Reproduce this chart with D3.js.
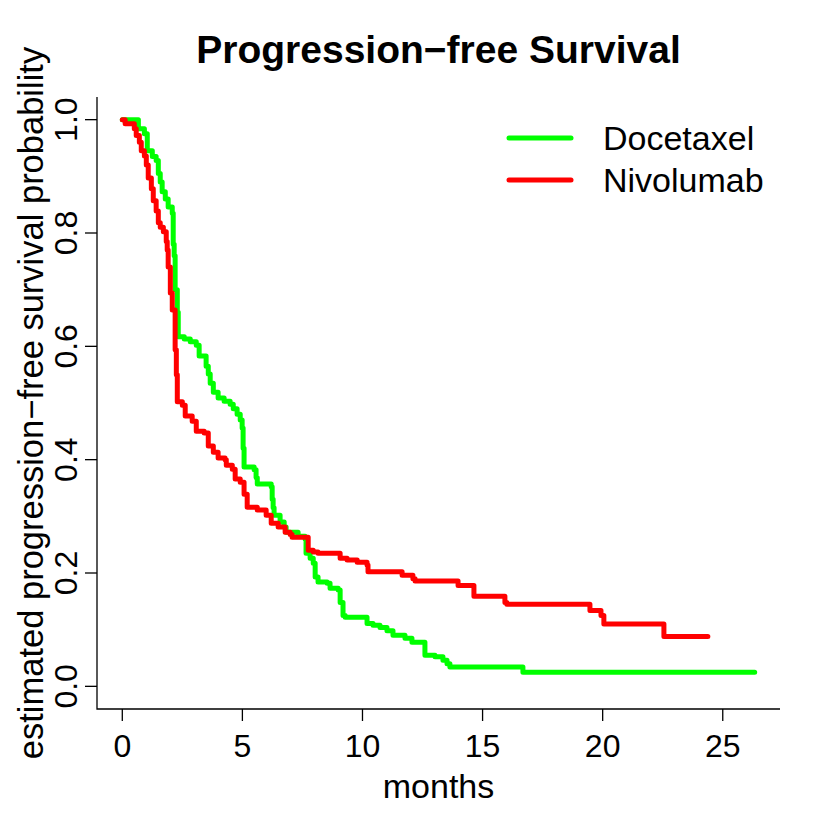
<!DOCTYPE html>
<html>
<head>
<meta charset="utf-8">
<script src="https://cdn.jsdelivr.net/npm/d3@7"></script>
<style>
  body { margin: 0; background: #fff; }
  text { font-family: "Liberation Sans", Arial, sans-serif; fill: #000; }
</style>
</head>
<body>
<div id="chart"></div>
<script>
// Kaplan-Meier steps (months, survival after the drop)
var docTime = [0, 0.67, 0.92, 1.04, 1.25, 1.41, 1.50, 1.58, 1.66, 1.79, 1.91, 2.08, 2.12, 2.16, 2.20, 2.29, 2.33,
    2.58, 2.83, 3.08, 3.20, 3.49, 3.58, 3.66, 3.79, 3.99, 4.24, 4.49, 4.62, 4.78, 4.91, 4.99, 5.03, 5.07,
    5.49, 5.57, 5.62, 6.20, 6.24, 6.28, 6.32, 6.57, 6.74, 6.82, 7.32, 7.61, 7.65, 7.82, 7.95, 8.03, 8.15,
    8.53, 8.65, 8.99, 9.07, 9.19, 9.28, 10.19, 10.44, 10.73, 11.02, 11.27, 11.77, 12.06, 12.60, 13.02,
    13.35, 13.52, 13.64, 16.68];
var docSurv = [1.0, 0.984, 0.975, 0.945, 0.935, 0.928, 0.905, 0.89, 0.873, 0.86, 0.846, 0.835, 0.78, 0.76, 0.70, 0.66, 0.617,
    0.613, 0.608, 0.602, 0.583, 0.565, 0.551, 0.535, 0.519, 0.509, 0.503, 0.498, 0.49, 0.48, 0.47, 0.456, 0.42, 0.387,
    0.382, 0.368, 0.357, 0.352, 0.33, 0.315, 0.302, 0.29, 0.281, 0.272, 0.265, 0.26, 0.235, 0.226, 0.217, 0.193, 0.184,
    0.182, 0.173, 0.17, 0.148, 0.125, 0.122, 0.111, 0.108, 0.104, 0.098, 0.09, 0.085, 0.078, 0.055, 0.052,
    0.046, 0.04, 0.034, 0.025];
var docEnd = 26.33;

var nivoTime = [0, 0.12, 0.50, 0.58, 0.71, 0.79, 0.92, 1.00, 1.08, 1.21, 1.29, 1.41, 1.50, 1.58, 1.71, 1.83, 1.87,
    1.91, 2.00, 2.08, 2.20, 2.25, 2.29, 2.50, 2.62, 2.91, 3.08, 3.41, 3.58, 3.79, 3.99, 4.28, 4.33, 4.58,
    4.70, 4.91, 5.07, 5.20, 5.62, 5.99, 6.20, 6.49, 6.78, 6.99, 7.07, 7.74, 7.95, 8.15, 9.07, 9.36, 9.78,
    10.19, 10.23, 11.65, 12.10, 12.19, 13.98, 14.64, 15.93, 16.01, 19.47, 19.93, 20.05, 22.55];
var nivoSurv = [1.0, 0.993, 0.984, 0.972, 0.96, 0.945, 0.936, 0.92, 0.897, 0.878, 0.857, 0.839, 0.818, 0.81, 0.802, 0.785, 0.77,
    0.74, 0.694, 0.664, 0.594, 0.55, 0.502, 0.496, 0.477, 0.468, 0.45, 0.447, 0.424, 0.413, 0.403, 0.4, 0.39, 0.383,
    0.366, 0.36, 0.339, 0.316, 0.311, 0.302, 0.288, 0.281, 0.272, 0.268, 0.263, 0.24, 0.237, 0.235, 0.226, 0.223, 0.219,
    0.214, 0.202, 0.196, 0.19, 0.186, 0.178, 0.159, 0.148, 0.145, 0.134, 0.125, 0.11, 0.088];
var nivoEnd = 24.38;

var seriesNames = ["Docetaxel", "Nivolumab"];
var seriesColors = ["#00ff00", "#ff0000"];
var xTicks = [0, 5, 10, 15, 20, 25];
var yTicks = [0, 0.2, 0.4, 0.6, 0.8, 1.0];

var width = 830,
    height = 830;

// plot region (R style: data range padded by 4%)
var plotLeft = 97, plotRight = 780, plotTop = 97, plotBottom = 709;
var xMax = docEnd, xPad = 0.04 * xMax;

var x = d3.scaleLinear().domain([-xPad, xMax + xPad]).range([plotLeft, plotRight]);
var y = d3.scaleLinear().domain([-0.04, 1.04]).range([plotBottom, plotTop]);

var svg = d3.select("#chart").append("svg")
    .attr("width", width)
    .attr("height", height);

// title
svg.append("text")
    .attr("x", (plotLeft + plotRight) / 2)
    .attr("y", 63)
    .attr("text-anchor", "middle")
    .style("font-size", "39px")
    .style("font-weight", "bold")
    .text("Progression\u2212free Survival");

// L-shaped box
svg.append("path")
    .attr("d", "M" + plotLeft + "," + plotTop + "V" + plotBottom + "H" + plotRight)
    .attr("fill", "none")
    .attr("stroke", "#000")
    .attr("stroke-width", 1.3);

// x axis ticks + labels
var xg = svg.append("g");
xTicks.forEach(function (t) {
    xg.append("line")
        .attr("x1", x(t)).attr("x2", x(t))
        .attr("y1", plotBottom).attr("y2", plotBottom + 12)
        .attr("stroke", "#000").attr("stroke-width", 1.3);
    xg.append("text")
        .attr("x", x(t)).attr("y", 757)
        .attr("text-anchor", "middle")
        .style("font-size", "32px")
        .text(t);
});

// y axis ticks + labels (rotated, R default)
var yg = svg.append("g");
yTicks.forEach(function (t) {
    yg.append("line")
        .attr("x1", plotLeft - 12).attr("x2", plotLeft)
        .attr("y1", y(t)).attr("y2", y(t))
        .attr("stroke", "#000").attr("stroke-width", 1.3);
    yg.append("text")
        .attr("transform", "translate(77," + y(t) + ") rotate(-90)")
        .attr("text-anchor", "middle")
        .style("font-size", "32px")
        .text(t.toFixed(1));
});

// axis titles
svg.append("text")
    .attr("x", (plotLeft + plotRight) / 2)
    .attr("y", 798)
    .attr("text-anchor", "middle")
    .style("font-size", "34px")
    .text("months");

svg.append("text")
    .attr("transform", "translate(43," + (plotTop + plotBottom) / 2 + ") rotate(-90)")
    .attr("text-anchor", "middle")
    .style("font-size", "34.5px")
    .text("estimated progression\u2212free survival probability");

// survival curves
var line = d3.line()
    .x(function (d) { return x(d[0]); })
    .y(function (d) { return y(d[1]); })
    .curve(d3.curveStepAfter);

function steps(times, surv, end) {
    var pts = times.map(function (t, i) { return [t, surv[i]]; });
    pts.push([end, surv[surv.length - 1]]);
    return pts;
}

var curves = [steps(docTime, docSurv, docEnd), steps(nivoTime, nivoSurv, nivoEnd)];

svg.append("g").selectAll("path")
    .data(curves)
    .enter().append("path")
    .attr("d", line)
    .attr("fill", "none")
    .attr("stroke", function (d, i) { return seriesColors[i]; })
    .attr("stroke-width", 5)
    .attr("stroke-linejoin", "round")
    .attr("stroke-linecap", "round");

// legend
var legend = svg.append("g");
seriesNames.forEach(function (name, i) {
    var ly = 138 + i * 42;
    legend.append("line")
        .attr("x1", 509).attr("x2", 571)
        .attr("y1", ly).attr("y2", ly)
        .attr("stroke", seriesColors[i])
        .attr("stroke-width", 5)
        .attr("stroke-linecap", "round");
    legend.append("text")
        .attr("x", 603).attr("y", ly + 12)
        .style("font-size", "34px")
        .text(name);
});
</script>
</body>
</html>
